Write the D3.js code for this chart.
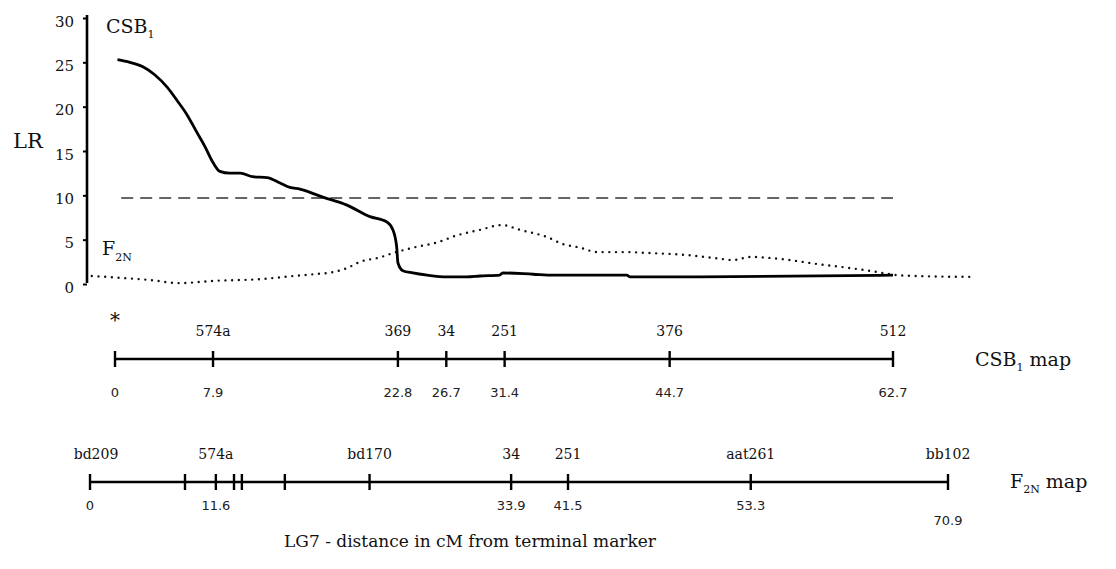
<!DOCTYPE html>
<html>
<head>
<meta charset="utf-8">
<script src="https://cdn.jsdelivr.net/npm/d3@7"></script>
<style>
  body { margin: 0; background: #fff; }
  svg text { font-family: "DejaVu Serif", "Liberation Serif", serif; fill: #111; }
  .num { font-family: "DejaVu Sans", "Liberation Sans", sans-serif; fill: #222; }
</style>
</head>
<body>
<svg id="chart" width="1116" height="569"></svg>
<script>
// LR axis ticks
var lrTicks = [0, 5, 10, 15, 20, 25, 30];

// CSB1 LR curve: position on CSB1 map (cM) and LR value
var csbPos = [0.2, 1.2, 2.25, 3.2, 4.2, 5.0, 5.8, 6.6, 7.25, 7.9, 8.45, 9.25, 10.1, 11.1, 12.25, 13.3, 14.1, 14.9,
              16.75, 18.7, 20.55, 21.9, 22.4, 22.7, 22.8, 23.2, 24.0, 25.15, 26.75, 28.35, 29.4, 31.0, 31.25,
              33.7, 35.3, 41.25, 41.5, 47.15, 62.7];
var csbLR = [25.3, 25.0, 24.5, 23.6, 22.2, 20.7, 19.1, 17.1, 15.5, 13.7, 12.7, 12.5, 12.5, 12.1, 12.0, 11.4, 10.9, 10.7,
             9.8, 8.9, 7.6, 7.0, 6.1, 4.2, 2.4, 1.5, 1.25, 1.0, 0.8, 0.8, 0.9, 1.0, 1.25,
             1.1, 1.0, 1.0, 0.8, 0.8, 1.0];

// F2N LR curve: position on F2N map (cM) and LR value
var f2nPos = [0.15, 2.5, 4.95, 7.45, 10.15, 14.05, 16.8, 18.45, 20.1, 21.25, 22.3, 23.95, 25.05, 26.7, 28.7, 30.35,
              32.2, 34.05, 35.55, 37.75, 39.1, 40.5, 41.9, 44.4, 46.05, 49.0, 51.8, 53.15, 54.55, 57.25, 60.1,
              62.8, 65.05, 66.7, 68.35, 73.0];
var f2nLR = [0.9, 0.7, 0.45, 0.1, 0.35, 0.55, 0.9, 1.1, 1.35, 1.8, 2.5, 3.0, 3.5, 4.1, 4.7, 5.5,
             6.1, 6.65, 6.1, 5.3, 4.5, 4.1, 3.6, 3.6, 3.5, 3.3, 2.9, 2.7, 3.05, 2.8, 2.25,
             1.8, 1.35, 1.0, 0.9, 0.8];

// significance threshold
var threshold = 9.7;
var thresholdRange = [0.5, 62.7];

// CSB1 map markers
var csbTicks = [0, 7.9, 22.8, 26.7, 31.4, 44.7, 62.7];
var csbNames = ["*", "574a", "369", "34", "251", "376", "512"];
var csbDists = ["0", "7.9", "22.8", "26.7", "31.4", "44.7", "62.7"];

// F2N map markers (tick positions as drawn, labels as printed)
var f2nTicks = [0, 7.85, 10.4, 11.9, 12.55, 16.1, 23.1, 34.8, 39.5, 54.6, 70.9];
var f2nNames = ["bd209", "", "574a", "", "", "", "bd170", "34", "251", "aat261", "bb102"];
var f2nDists = ["0", "", "11.6", "", "", "", "", "33.9", "41.5", "53.3", "70.9"];

var svg = d3.select("#chart");

var y = d3.scaleLinear().domain([0, 30]).range([284, 18]);
var xCsb = d3.scaleLinear().domain([0, 62.7]).range([115, 893]);
var xF2n = d3.scaleLinear().domain([0, 70.9]).range([90, 948]);

// LR axis
var yAxis = svg.append("g")
    .attr("transform", "translate(87,0)")
    .call(d3.axisLeft(y).tickValues(lrTicks).tickSize(4).tickSizeOuter(0).tickPadding(9));
yAxis.select(".domain").attr("stroke", "#000").attr("stroke-width", 2.6)
    .attr("d", "M0," + (y(30) - 3) + "V" + (y(0) - 1));
yAxis.selectAll(".tick line").attr("stroke-width", 2);
yAxis.selectAll(".tick text")
    .attr("font-family", "DejaVu Serif, serif")
    .attr("font-size", 15)
    .attr("dy", "0.55em")
    .attr("fill", "#111");

svg.append("text").attr("x", 13).attr("y", 148).attr("font-size", 21).text("LR");

var csbLabel = svg.append("text").attr("x", 106).attr("y", 33).attr("font-size", 19);
csbLabel.append("tspan").text("CSB");
csbLabel.append("tspan").attr("font-size", 11).attr("dy", 5).text("1");

var f2nLabel = svg.append("text").attr("x", 102).attr("y", 255).attr("font-size", 19);
f2nLabel.append("tspan").text("F");
f2nLabel.append("tspan").attr("font-size", 11).attr("dy", 6).text("2N");

// threshold
svg.append("line")
    .attr("x1", xCsb(thresholdRange[0])).attr("x2", xCsb(thresholdRange[1]))
    .attr("y1", y(threshold)).attr("y2", y(threshold))
    .attr("stroke", "#333").attr("stroke-width", 1.3)
    .attr("stroke-dasharray", "12,7");

// F2N dotted curve
var lineF2n = d3.line()
    .x(function (d, i) { return xF2n(f2nPos[i]); })
    .y(function (d) { return y(d); })
    .curve(d3.curveMonotoneX);
svg.append("path").datum(f2nLR)
    .attr("d", lineF2n)
    .attr("fill", "none").attr("stroke", "#111").attr("stroke-width", 2.4)
    .attr("stroke-linecap", "round").attr("stroke-dasharray", "0,6.7");

// CSB1 solid curve
var lineCsb = d3.line()
    .x(function (d, i) { return xCsb(csbPos[i]); })
    .y(function (d) { return y(d); })
    .curve(d3.curveMonotoneX);
svg.append("path").datum(csbLR)
    .attr("d", lineCsb)
    .attr("fill", "none").attr("stroke", "#000").attr("stroke-width", 2.8)
    .attr("stroke-linejoin", "round");

// map drawing helper
function drawMap(scale, ticks, names, dists, lineY, nameY, distY, lastDrop) {
    var g = svg.append("g");
    g.append("line")
        .attr("x1", scale(ticks[0])).attr("x2", scale(ticks[ticks.length - 1]))
        .attr("y1", lineY).attr("y2", lineY)
        .attr("stroke", "#000").attr("stroke-width", 2.6);
    g.selectAll("line.tk").data(ticks).enter().append("line")
        .attr("class", "tk")
        .attr("x1", function (d) { return scale(d); })
        .attr("x2", function (d) { return scale(d); })
        .attr("y1", lineY - 8).attr("y2", lineY + 8)
        .attr("stroke", "#000").attr("stroke-width", 2.4);
    g.selectAll("text.nm").data(ticks).enter().append("text")
        .attr("class", "nm")
        .attr("x", function (d, i) { return scale(d) + (i === 0 && names[i] !== "*" ? 6 : 0); })
        .attr("y", function (d, i) { return names[i] === "*" ? nameY - 9 : nameY; })
        .attr("text-anchor", "middle")
        .attr("font-size", function (d, i) { return names[i] === "*" ? 20 : 14; })
        .text(function (d, i) { return names[i]; });
    g.selectAll("text.num").data(ticks).enter().append("text")
        .attr("class", "num")
        .attr("x", function (d) { return scale(d); })
        .attr("y", function (d, i) { return i === ticks.length - 1 ? distY + lastDrop : distY; })
        .attr("text-anchor", "middle")
        .attr("font-size", 13)
        .text(function (d, i) { return dists[i]; });
    return g;
}

drawMap(xCsb, csbTicks, csbNames, csbDists, 359, 336, 397, 0);
drawMap(xF2n, f2nTicks, f2nNames, f2nDists, 482, 459, 510, 15);

var csbMap = svg.append("text").attr("x", 975).attr("y", 366).attr("font-size", 19);
csbMap.append("tspan").text("CSB");
csbMap.append("tspan").attr("font-size", 11).attr("dy", 5).text("1");
csbMap.append("tspan").attr("dy", -5).text(" map");

var f2nMap = svg.append("text").attr("x", 1010).attr("y", 488).attr("font-size", 19);
f2nMap.append("tspan").text("F");
f2nMap.append("tspan").attr("font-size", 11).attr("dy", 5).text("2N");
f2nMap.append("tspan").attr("dy", -5).text(" map");

svg.append("text")
    .attr("x", 470).attr("y", 547)
    .attr("text-anchor", "middle")
    .attr("font-size", 17)
    .text("LG7 - distance in cM from terminal marker");
</script>
</body>
</html>
